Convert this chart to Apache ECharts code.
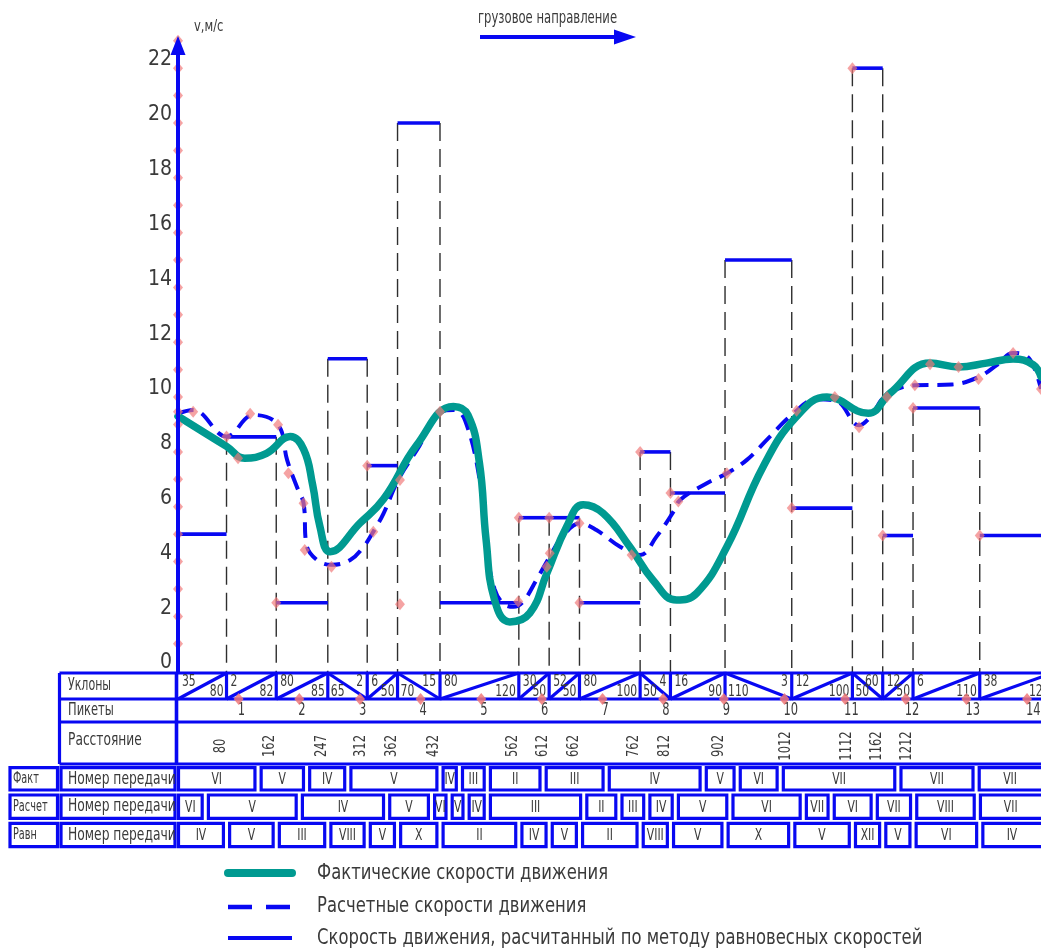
<!DOCTYPE html>
<html lang="ru">
<head>
<meta charset="utf-8">
<title>Скорости движения</title>
<script src="https://cdn.jsdelivr.net/npm/echarts@6/dist/echarts.min.js"></script>
<style>
  html, body { margin: 0; padding: 0; background: #ffffff; }
  #chart { width: 1041px; height: 949px; }
</style>
</head>
<body>
<div id="chart"></div>
<script>
// Speed scale ticks, m/s
const speedTicks = [0, 2, 4, 6, 8, 10, 12, 14, 16, 18, 20, 22];

// Section boundaries along the route, m
const sectionBounds = [0, 80, 162, 247, 312, 362, 432, 562, 612, 662, 762, 812, 902, 1012, 1112, 1162, 1212, 1322, 1442];

// Equilibrium speed on each section, m/s
const equilibriumSpeed = [4.7, 8.25, 2.2, 11.1, 7.2, 19.7, 2.2, 5.3, 5.3, 2.2, 7.7, 6.2, 14.7, 5.65, 21.7, 4.65, 9.3, 4.65];

// Grade profile of each section: direction, grade, length
const gradeDirection = ['up', 'up', 'up', 'down', 'up', 'down', 'up', 'up', 'up', 'up', 'down', 'up', 'down', 'up', 'down', 'up', 'up', 'up'];
const gradeValue = [35, 2, 80, 2, 6, 15, 80, 30, 52, 80, 4, 16, 3, 12, 60, 12, 6, 38];
const gradeLength = [80, 82, 85, 65, 50, 70, 120, 50, 50, 100, 50, 90, 110, 100, 50, 50, 110, 120];

// Pickets, one every 100 m
const pickets = [1, 2, 3, 4, 5, 6, 7, 8, 9, 10, 11, 12, 13, 14];
const picketStep = 100;

// Distance marks, m
const distanceMarks = [80, 162, 247, 312, 362, 432, 562, 612, 662, 762, 812, 902, 1012, 1112, 1162, 1212];

// Gear numbers: actual run
const factGearStart = [0, 132, 212, 280, 432, 464, 510, 602, 706, 866, 922, 993, 1187, 1316];
const factGear = ['VI', 'V', 'IV', 'V', 'IV', 'III', 'II', 'III', 'IV', 'V', 'VI', 'VII', 'VII', 'VII'];
// Gear numbers: calculated run
const calcGearStart = [0, 45, 200, 344, 418, 447, 475, 510, 669, 727, 773, 820, 910, 1031, 1077, 1148, 1213, 1318];
const calcGear = ['VI', 'V', 'IV', 'V', 'VI', 'V', 'IV', 'III', 'II', 'III', 'IV', 'V', 'VI', 'VII', 'VI', 'VII', 'VIII', 'VII'];
// Gear numbers: equilibrium speeds, one per section
const equilibriumGear = ['IV', 'V', 'III', 'VIII', 'V', 'X', 'II', 'IV', 'V', 'II', 'VIII', 'V', 'X', 'V', 'XII', 'V', 'VI', 'IV'];

// Actual speed [distance m, speed m/s]
const actualSpeed = [
  [0, 9.0], [80, 7.9], [110, 7.47], [146, 7.65], [185, 8.26], [207, 7.8], [222, 6.5], [234, 4.98],
  [251, 4.06], [300, 5.1], [339, 5.98], [394, 7.96], [454, 9.36], [478, 9.05], [497, 7.3], [508, 4.5],
  [522, 2.3], [547, 1.5], [580, 1.82], [608, 3.26], [641, 4.98], [668, 5.77], [701, 5.46], [745, 4.24],
  [783, 3.03], [822, 2.3], [855, 2.54], [905, 4.24], [965, 7.17], [1020, 8.99], [1070, 9.7], [1138, 9.11],
  [1174, 9.84], [1240, 10.94], [1287, 10.8], [1333, 10.94], [1377, 11.09], [1410, 10.88], [1423, 10.44]
];

// Calculated speed [distance m, speed m/s]
const calcSpeed = [
  [0, 9.1], [25, 9.23], [80, 8.26], [124, 9.05], [165, 8.69], [180, 7.4], [196, 6.43], [207, 5.83],
  [212, 4.3], [229, 3.76], [253, 3.58], [284, 3.76], [306, 4.24], [322, 4.79], [339, 5.46], [363, 6.68],
  [394, 7.77], [435, 9.17], [454, 9.23], [473, 8.87], [498, 6.6], [510, 4.0], [522, 2.7], [536, 2.18],
  [553, 2.05], [569, 2.24], [591, 3.03], [613, 3.88], [630, 4.49], [663, 5.1], [690, 4.85], [729, 4.24],
  [762, 3.94], [789, 4.61], [817, 5.52], [828, 5.95], [872, 6.56], [905, 6.92], [938, 7.41], [976, 8.26],
  [1012, 9.05], [1053, 9.62], [1086, 9.55], [1123, 8.67], [1141, 8.96], [1168, 9.77], [1215, 10.13],
  [1276, 10.16], [1320, 10.43], [1350, 10.87], [1377, 11.31], [1397, 11.23], [1410, 10.87], [1423, 10.0]
];

// Construction nodes along the curves and steps [distance m, speed m/s]
const nodePoints = [
  [0, 9.17], [25, 9.17], [80, 8.26], [99, 7.47], [119, 9.09], [165, 8.69], [182, 6.92], [207, 5.83],
  [209, 4.12], [253, 3.51], [322, 4.79], [366, 6.68], [432, 9.17], [561, 2.24], [608, 3.51], [613, 4.0],
  [662, 5.1], [748, 3.94], [825, 5.89], [905, 6.92], [1020, 9.2], [1083, 9.7], [1123, 8.6], [1169, 9.7],
  [1215, 10.13], [1240, 10.9], [1287, 10.8], [1320, 10.36], [1377, 11.31], [1423, 10.0], [366, 2.14],
  [162, 2.2], [312, 7.2], [562, 5.3], [612, 5.3], [662, 2.2], [762, 7.7], [812, 6.2], [1012, 5.65],
  [1112, 21.7], [1162, 4.65], [1212, 9.3], [1322, 4.65]
];
// Nodes on the speed scale, m/s
const axisNodes = [0.7, 1.7, 2.7, 3.7, 4.7, 5.7, 6.7, 7.7, 8.7, 9.7, 10.7, 11.7, 12.7, 13.7, 14.7, 15.7, 16.7, 17.7, 18.7, 19.7, 20.7, 21.7, 22.7];

const FONT = "'Liberation Sans Narrow', 'DejaVu Sans Condensed', sans-serif";
const BLUE = '#0808f2';
const TEAL = '#009a91';
const NODE = 'rgba(240, 120, 120, 0.85)';
const INK = '#3a3a3a';
const X_MAX = 1423;
const Y_MAX = 22.8;

// Table rows (pixel layout)
const TABLE_TOP = 673, ROW_GRADE = 699, ROW_PICKET = 722, ROW_DIST = 764;
const TABLE_RIGHT = 1046;
const gearRows = [
  { name: 'Факт', starts: factGearStart, gears: factGear, top: 767.7, bottom: 790 },
  { name: 'Расчет', starts: calcGearStart, gears: calcGear, top: 795, bottom: 818.3 },
  { name: 'Равн', starts: sectionBounds.slice(0, -1), gears: equilibriumGear, top: 823.3, bottom: 846.7 }
];

const chart = echarts.init(document.getElementById('chart'));

chart.setOption({
  animation: false,
  textStyle: { fontFamily: FONT },
  grid: { left: 178, right: 0, top: 38, bottom: 286 },
  xAxis: { type: 'value', min: 0, max: X_MAX, show: false },
  yAxis: {
    type: 'value', min: 0, max: Y_MAX, interval: 2,
    axisLine: { show: false }, axisTick: { show: false }, splitLine: { show: false },
    axisLabel: {
      fontSize: 21, color: INK, margin: 6, fontFamily: FONT,
      formatter: v => (speedTicks.includes(v) ? String(v) : '')
    }
  },
  series: [
    {
      // dashed section boundaries
      type: 'custom', name: 'sections', z: 1, silent: true, clip: false,
      data: sectionBounds.slice(1, -1).map((b, i) => [b, Math.max(equilibriumSpeed[i], equilibriumSpeed[i + 1])]),
      encode: { x: 0, y: 1 },
      renderItem: (params, api) => {
        const top = api.coord([api.value(0), api.value(1)]);
        return {
          type: 'line',
          shape: { x1: top[0], y1: top[1], x2: top[0], y2: TABLE_TOP },
          style: { stroke: '#2e2e2e', lineWidth: 1.4, lineDash: [18, 8] }
        };
      }
    },
    {
      // equilibrium speed steps
      type: 'custom', name: 'Скорость движения, расчитанный по методу равновесных скоростей', z: 2, clip: true,
      data: equilibriumSpeed.map((v, i) => [sectionBounds[i], sectionBounds[i + 1], v]),
      encode: { x: [0, 1], y: 2 },
      renderItem: (params, api) => {
        const a = api.coord([api.value(0), api.value(2)]);
        const b = api.coord([api.value(1), api.value(2)]);
        return {
          type: 'line',
          shape: { x1: a[0], y1: a[1], x2: b[0], y2: b[1] },
          style: { stroke: BLUE, lineWidth: 3.6 }
        };
      }
    },
    {
      type: 'line', name: 'Расчетные скорости движения', z: 3,
      data: calcSpeed, smooth: 0.4, showSymbol: false,
      lineStyle: { color: BLUE, width: 4, type: [16, 9] }
    },
    {
      type: 'line', name: 'Фактические скорости движения', z: 4,
      data: actualSpeed, smooth: 0.45, showSymbol: false,
      lineStyle: { color: TEAL, width: 7.5, cap: 'round' }
    },
    {
      type: 'scatter', name: 'nodes', z: 5, clip: false, silent: true,
      symbol: 'diamond', symbolSize: [10, 12],
      itemStyle: { color: NODE },
      data: nodePoints.concat(axisNodes.map(v => [0, v]))
    }
  ]
});

const px = m => chart.convertToPixel({ xAxisIndex: 0 }, m);
const py = v => chart.convertToPixel({ yAxisIndex: 0 }, v);

const g = [];
const line = (x1, y1, x2, y2, stroke, w, extra) => g.push(Object.assign({
  type: 'line', silent: true, z: 10,
  shape: { x1, y1, x2, y2 },
  style: Object.assign({ stroke, lineWidth: w }, extra || {})
}));
// narrow drafting-style text: glyphs are squeezed horizontally
const text = (s, x, y, size, align, narrow, opts) => g.push(Object.assign({
  type: 'text', silent: true, z: 11, x, y, scaleX: narrow || 0.8,
  style: { text: String(s), x: 0, y: 0, fontSize: size, fontFamily: FONT, fill: INK, align: align || 'left', verticalAlign: 'middle' }
}, opts || {}));
const rect = (x1, y1, x2, y2) => g.push({
  type: 'rect', silent: true, z: 10,
  shape: { x: x1, y: y1, width: x2 - x1, height: y2 - y1 },
  style: { fill: 'none', stroke: BLUE, lineWidth: 3.2 }
});
const diamond = (x, y) => g.push({
  type: 'polygon', silent: true, z: 12,
  shape: { points: [[x, y - 6], [x + 5, y], [x, y + 6], [x - 5, y]] },
  style: { fill: NODE }
});

const x0 = px(0);

// vertical speed axis with arrow
const tipY = py(Y_MAX) - 2;
line(x0, TABLE_TOP, x0, tipY + 14, BLUE, 4);
g.push({ type: 'polygon', silent: true, z: 10, shape: { points: [[x0, tipY], [x0 - 7.5, tipY + 19], [x0 + 7.5, tipY + 19]] }, style: { fill: BLUE } });
text('v,м/с', 194, 27, 16, 'left', 0.8);

// freight direction arrow
line(480, 37, 618, 37, BLUE, 4.2);
g.push({ type: 'polygon', silent: true, z: 10, shape: { points: [[614, 29.5], [636, 37], [614, 44.5]] }, style: { fill: BLUE } });
text('грузовое направление', 478, 19, 17, 'left', 0.76);

// upper table frame
[TABLE_TOP, ROW_GRADE, ROW_PICKET, ROW_DIST].forEach(y => line(59.5, y, TABLE_RIGHT, y, BLUE, 3.2));
line(59.5, TABLE_TOP, 59.5, ROW_DIST, BLUE, 3.2);
line(176.5, TABLE_TOP, 176.5, ROW_DIST, BLUE, 3.6);
text('Уклоны', 68, 686, 17, 'left', 0.72);
text('Пикеты', 68, 711, 17, 'left', 0.75);
text('Расстояние', 68, 741, 17, 'left', 0.8);

// grade row
gradeDirection.forEach((dir, i) => {
  const xl = px(sectionBounds[i]);
  const xr = px(sectionBounds[i + 1]);
  if (i > 0) line(xl, TABLE_TOP, xl, ROW_GRADE, BLUE, 3.2);
  if (dir === 'up') {
    line(xl, ROW_GRADE, xr, TABLE_TOP, BLUE, 3.2);
    text(gradeValue[i], xl + 4, TABLE_TOP + 9, 15, 'left', 0.8);
    text(gradeLength[i], xr - 3, ROW_GRADE - 7, 15, 'right', 0.8);
  } else {
    line(xl, TABLE_TOP, xr, ROW_GRADE, BLUE, 3.2);
    text(gradeLength[i], xl + 3, ROW_GRADE - 7, 15, 'left', 0.8);
    text(gradeValue[i], xr - 4, TABLE_TOP + 9, 15, 'right', 0.8);
  }
});

// pickets
pickets.forEach(k => {
  const x = px(k * picketStep);
  diamond(x, ROW_GRADE);
  text(k, x - 1, 711, 17, 'left', 0.75);
});

// distances (rotated, read bottom to top)
distanceMarks.forEach(d => {
  g.push({
    type: 'text', silent: true, z: 11, x: px(d) - 6, y: 746, rotation: Math.PI / 2, scaleX: 0.8,
    style: { text: String(d), x: 0, y: 0, fontSize: 16, fontFamily: FONT, fill: INK, align: 'center', verticalAlign: 'middle' }
  });
});

// gear rows
gearRows.forEach(row => {
  rect(10, row.top, 57.5, row.bottom);
  rect(61, row.top, 175, row.bottom);
  const cy = (row.top + row.bottom) / 2;
  text(row.name, 13, cy, 15, 'left', 0.72);
  text('Номер передачи', 68, cy, 18, 'left', 0.76);
  row.starts.forEach((s, i) => {
    const e = i + 1 < row.starts.length ? row.starts[i + 1] : 1500;
    const xl = s === 0 ? x0 + 0.5 : px(s) + 3.1;
    const xr = Math.min(px(e) - 3.1, TABLE_RIGHT);
    rect(xl, row.top, xr, row.bottom);
    const xc = (xl + Math.min(xr, 1041)) / 2;
    text(row.gears[i], xc, cy + 1, 16, 'center', 0.75);
  });
});

// legend
const legendX1 = 228, legendX2 = 292, legendText = 317;
line(legendX1, 873, legendX2, 873, TEAL, 8, { lineCap: 'round' });
text('Фактические скорости движения', legendText, 873, 22, 'left', 0.83);
line(legendX1, 907, legendX2, 907, BLUE, 4.5, { lineDash: [24, 14] });
text('Расчетные скорости движения', legendText, 906, 22, 'left', 0.83);
line(legendX1, 938, legendX2, 938, BLUE, 4);
text('Скорость движения, расчитанный по методу равновесных скоростей', legendText, 938, 22, 'left', 0.83);

chart.setOption({ graphic: { elements: g } });
</script>
</body>
</html>
